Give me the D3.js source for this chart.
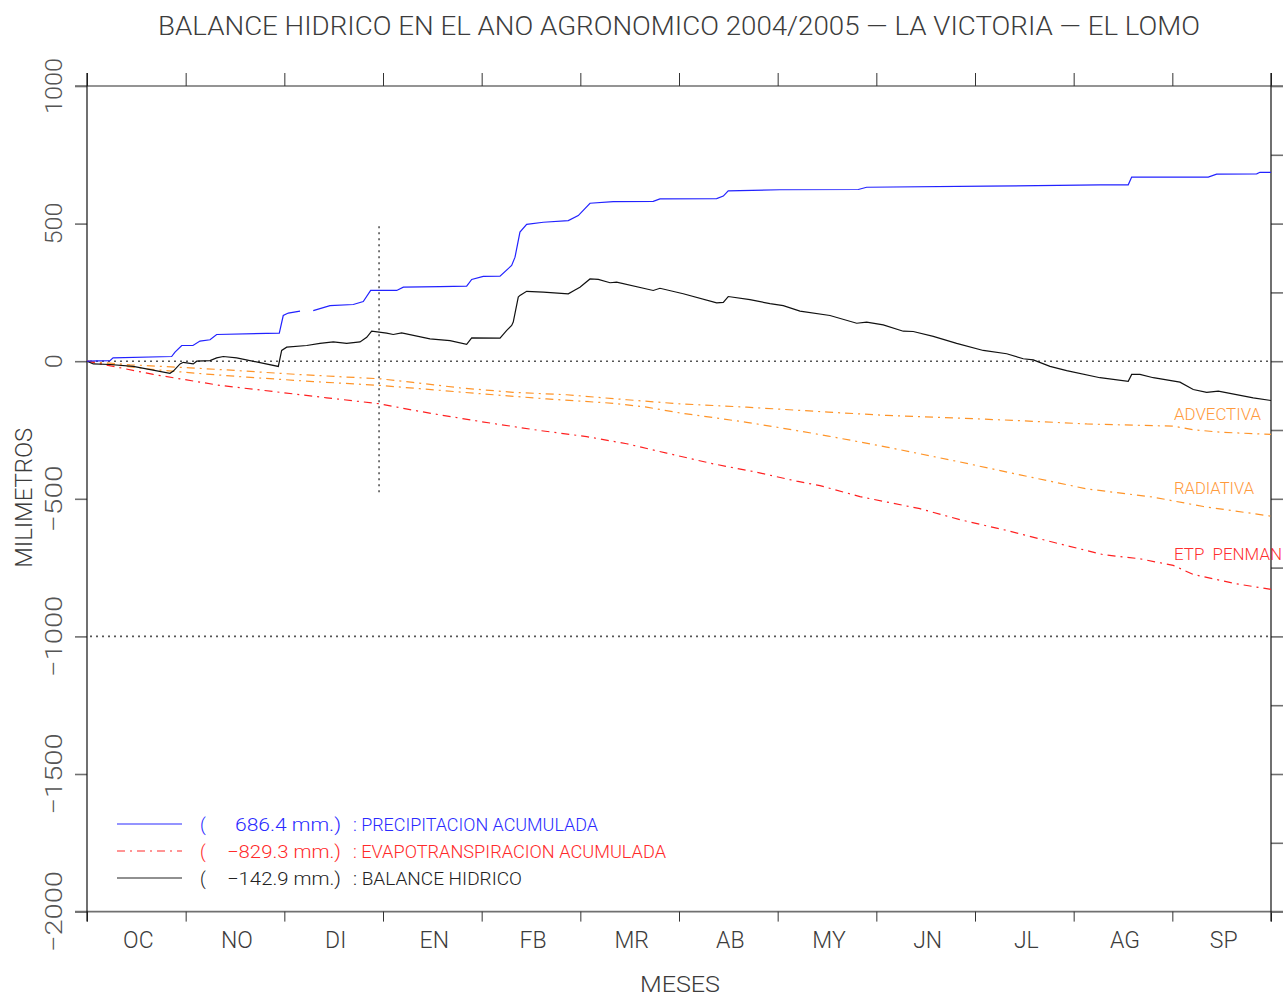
<!DOCTYPE html>
<html>
<head>
<meta charset="utf-8">
<script src="https://cdn.jsdelivr.net/npm/d3@7"></script>
<style>
  body { margin: 0; background: #fff; }
  svg { display: block; font-family: Roboto, "Liberation Sans", sans-serif; font-weight: 300; }
  text { white-space: pre; }
</style>
</head>
<body>
<svg id="chart" width="1283" height="997"></svg>
<script>
// Hydrological year Oct 2004 – Sep 2005; x positions are in months from 1 Oct.
const monthLabels = ["OC","NO","DI","EN","FB","MR","AB","MY","JN","JL","AG","SP"];
const monthBoundaries = [0,1,2,3,4,5,6,7,8,9,10,11,12];
const leftTickValues = [-2000,-1500,-1000,-500,0,500,1000];
const leftTickLabels = ["\u22122000","\u22121500","\u22121000","\u2212500","0","500","1000"];
const rightTickValues = [-2000,-1750,-1500,-1250,-1000,-750,-500,-250,0,250,500,750,1000];
const referenceLevels = [0,-1000];
const markerMonth = 2.96;
const markerRange = [490,-490];

// Accumulated precipitation (mm); null = missing record
const precipitation = [
  [0,0],[0.233,2],[0.264,12],[0.858,17],[0.892,33],[0.960,57],[1.074,57],[1.145,73],
  [1.247,78],[1.314,97],[1.949,102],[1.989,166],[2.040,175],[2.159,182],[2.22,null],
  [2.293,184],[2.463,202],[2.699,206],[2.800,217],[2.875,257],[3.139,257],[3.206,269],
  [3.578,271],[3.848,273],[3.899,297],[4.016,308],[4.186,309],[4.304,348],[4.338,378],
  [4.388,469],[4.456,497],[4.625,505],[4.878,511],[4.979,529],[5.098,574],[5.334,580],
  [5.739,581],[5.807,590],[6.382,591],[6.449,600],[6.499,619],[7.023,623],[7.817,624],
  [7.902,632],[9.118,636],[10.267,641],[10.553,641],[10.588,669],[11.364,669],
  [11.449,680],[11.855,681],[11.888,686.4],[12,686.4]
];

// Accumulated water balance (mm)
const balance = [
  [0,0],[0.064,-10],[0.233,-12],[0.469,-19],[0.841,-44],[0.875,-36],[0.943,-10],
  [0.976,-4],[1.077,-10],[1.112,0],[1.247,2],[1.314,12],[1.381,17],[1.517,12],
  [1.939,-19],[1.973,39],[2.024,51],[2.227,57],[2.361,65],[2.496,70],[2.632,65],
  [2.767,70],[2.835,87],[2.885,109],[3.037,102],[3.104,97],[3.189,103],[3.476,81],
  [3.679,75],[3.848,61],[3.899,85],[4.186,84],[4.254,112],[4.304,130],[4.320,142],
  [4.371,233],[4.388,239],[4.456,254],[4.625,251],[4.878,245],[4.946,259],[4.996,269],
  [5.098,299],[5.182,297],[5.301,285],[5.368,287],[5.739,257],[5.807,265],[6.043,245],
  [6.382,212],[6.449,214],[6.499,235],[6.719,224],[6.922,209],[7.057,202],[7.226,182],
  [7.530,166],[7.801,138],[7.902,142],[8.070,132],[8.273,109],[8.374,108],[8.577,90],
  [8.814,65],[9.084,39],[9.321,27],[9.489,9],[9.591,5],[9.760,-19],[9.929,-34],
  [10.267,-60],[10.553,-73],[10.588,-48],[10.672,-48],[10.807,-60],[11.077,-76],
  [11.212,-103],[11.348,-113],[11.466,-109],[11.820,-133],[12,-142.9]
];

// Accumulated evapotranspiration, Penman (mm)
const etpPenman = [
  [0,0],[0.267,-19],[0.672,-48],[0.943,-64],[1.348,-88],[1.787,-106],[2.429,-133],
  [2.970,-155],[3.274,-176],[3.510,-191],[3.983,-219],[4.591,-252],[5.064,-274],
  [5.470,-300],[5.875,-334],[6.347,-373],[6.753,-401],[7.193,-436],[7.429,-452],
  [7.834,-492],[8.442,-536],[8.848,-576],[9.321,-615],[9.793,-658],[10.300,-703],
  [10.672,-718],[11.009,-742],[11.212,-775],[11.652,-809],[12,-829.3]
];

// Advective component (mm)
const advectiva = [
  [0,0],[0.436,-13],[1.044,-24],[1.517,-34],[2.125,-48],[2.970,-64],[3.304,-77],
  [3.780,-97],[4.317,-113],[4.862,-122],[5.470,-140],[6.010,-155],[6.686,-167],
  [7.513,-185],[8.105,-197],[8.780,-206],[9.456,-216],[10.132,-228],[11.009,-236],
  [11.212,-249],[11.483,-258],[12,-266]
];

// Radiative component (mm)
const radiativa = [
  [0,0],[0.605,-28],[1.112,-44],[1.619,-58],[2.293,-74],[2.970,-88],[3.375,-100],
  [3.983,-118],[4.659,-137],[5.334,-153],[5.672,-167],[6.010,-188],[6.686,-222],
  [7.193,-252],[7.513,-272],[8.105,-312],[8.780,-361],[9.456,-413],[10.132,-464],
  [10.807,-494],[11.314,-528],[12,-563]
];

const legendNames = ["PRECIPITACION ACUMULADA","EVAPOTRANSPIRACION ACUMULADA","BALANCE HIDRICO"];

const svg = d3.select("#chart");
const x = d3.scaleLinear().domain([0, 12]).range([87, 1271]);
const y = d3.scaleLinear().domain([-2000, 1000]).range([911.6, 86]);

const axisGrey = "#707070";
const textGrey = "#3c3c3c";

// Title
svg.append("text")
  .attr("x", 158).attr("y", 35)
  .attr("font-size", 25).attr("fill", textGrey)
  .attr("textLength", 1042).attr("lengthAdjust", "spacingAndGlyphs")
  .text("BALANCE HIDRICO EN EL ANO AGRONOMICO 2004/2005 \u2014 LA VICTORIA \u2014 EL LOMO");

// Frame: horizontal lines at top and bottom of the value range
const [x0, x1] = x.range();
[1000, -2000].forEach(v => {
  svg.append("line")
    .attr("x1", x0 - 12).attr("x2", x1 + 12)
    .attr("y1", y(v)).attr("y2", y(v))
    .attr("stroke", axisGrey).attr("stroke-width", 1.6);
});

// Month ticks on bottom (down) and top (up)
const bottomAxis = d3.axisBottom(x).tickValues(monthBoundaries).tickSize(10).tickFormat("").tickSizeOuter(0);
const gB = svg.append("g").attr("transform", `translate(0,${y(-2000)})`).call(bottomAxis);
const topAxis = d3.axisTop(x).tickValues(monthBoundaries).tickSize(13).tickFormat("").tickSizeOuter(0);
const gT = svg.append("g").attr("transform", `translate(0,${y(1000)})`).call(topAxis);
[gB, gT].forEach(g => {
  g.select(".domain").remove();
  g.selectAll(".tick line").attr("stroke", "#333").attr("stroke-width", 1);
});

// Left value ticks
const leftAxis = d3.axisLeft(y).tickValues(leftTickValues).tickSize(12).tickFormat("").tickSizeOuter(0);
const gL = svg.append("g").attr("transform", `translate(${x0},0)`).call(leftAxis);
gL.select(".domain").remove();
gL.selectAll(".tick line").attr("stroke", axisGrey).attr("stroke-width", 1.6);

// Right value ticks
const rightAxis = d3.axisRight(y).tickValues(rightTickValues).tickSize(12).tickFormat("").tickSizeOuter(0);
const gR = svg.append("g").attr("transform", `translate(${x1},0)`).call(rightAxis);
gR.select(".domain").remove();
gR.selectAll(".tick line").attr("stroke", axisGrey).attr("stroke-width", 1.6);

// Vertical axis lines
[x0, x1].forEach(xx => {
  svg.append("line")
    .attr("x1", xx).attr("x2", xx)
    .attr("y1", y(1000) - 13).attr("y2", y(-2000) + 10)
    .attr("stroke", "#111").attr("stroke-width", 1.2);
});

// Left tick labels (rotated)
leftTickValues.forEach((v, i) => {
  const lab = leftTickLabels[i];
  const digits = lab.replace("\u2212", "").length;
  const len = digits * 14 + (lab.startsWith("\u2212") ? 25 : 0);
  svg.append("text")
    .attr("transform", `translate(62,${y(v)}) rotate(-90)`)
    .attr("text-anchor", "middle")
    .attr("font-size", 24).attr("fill", "#555")
    .attr("textLength", len).attr("lengthAdjust", "spacingAndGlyphs")
    .text(lab);
});

// Month labels
monthLabels.forEach((m, i) => {
  svg.append("text")
    .attr("x", x(i + 0.5) + 2).attr("y", 948)
    .attr("text-anchor", "middle")
    .attr("font-size", 23).attr("fill", textGrey)
    .text(m);
});

// Axis titles
svg.append("text")
  .attr("x", 680).attr("y", 992).attr("text-anchor", "middle")
  .attr("font-size", 22).attr("fill", textGrey)
  .attr("textLength", 80).attr("lengthAdjust", "spacingAndGlyphs")
  .text("MESES");
svg.append("text")
  .attr("transform", `translate(32,${y(-500) - 1}) rotate(-90)`)
  .attr("text-anchor", "middle")
  .attr("font-size", 23).attr("fill", textGrey)
  .attr("textLength", 140).attr("lengthAdjust", "spacingAndGlyphs")
  .text("MILIMETROS");

// Dotted reference levels and date marker
referenceLevels.forEach(v => {
  svg.append("line")
    .attr("x1", x0 + 3).attr("x2", x1)
    .attr("y1", y(v)).attr("y2", y(v))
    .attr("stroke", "#555").attr("stroke-width", 1.6)
    .attr("stroke-dasharray", "2,4");
});
svg.append("line")
  .attr("x1", x(markerMonth)).attr("x2", x(markerMonth))
  .attr("y1", y(markerRange[0])).attr("y2", y(markerRange[1]))
  .attr("stroke", "#555").attr("stroke-width", 1.6)
  .attr("stroke-dasharray", "2,4");

// Series
const line = d3.line()
  .defined(d => d[1] !== null)
  .x(d => x(d[0]))
  .y(d => y(d[1]));

const dashDot = "8,5,2,5";
const series = [
  { data: advectiva, color: "#ff9428", dash: dashDot },
  { data: radiativa, color: "#ff9428", dash: dashDot },
  { data: etpPenman, color: "#ff2020", dash: dashDot },
  { data: balance, color: "#111111", dash: null },
  { data: precipitation, color: "#2222ff", dash: null }
];
series.forEach(s => {
  svg.append("path")
    .datum(s.data)
    .attr("d", line)
    .attr("fill", "none")
    .attr("stroke", s.color)
    .attr("stroke-width", 1.2)
    .attr("stroke-dasharray", s.dash);
});

// End-of-series labels
const last = arr => arr[arr.length - 1][1];
[
  { text: "ADVECTIVA", y: 420, color: "#ff9a3c", len: 87 },
  { text: "RADIATIVA", y: 494, color: "#ff9a3c", len: 80 },
  { text: "ETP  PENMAN", y: 560, color: "#ff3030", len: 108 }
].forEach(l => {
  svg.append("text")
    .attr("x", 1174).attr("y", l.y)
    .attr("font-size", 17).attr("fill", l.color)
    .attr("textLength", l.len).attr("lengthAdjust", "spacingAndGlyphs")
    .text(l.text);
});

// Legend
const fmt = v => (v < 0 ? "\u2212" : "") + d3.format(".1f")(Math.abs(v));
const legendRows = [
  { value: last(precipitation), name: legendNames[0], color: "#2a2aff", dash: null, y: 824, nameLen: 245 },
  { value: last(etpPenman), name: legendNames[1], color: "#ff2a2a", dash: dashDot, y: 851, nameLen: 313 },
  { value: last(balance), name: legendNames[2], color: "#222222", dash: null, y: 878, nameLen: 169 }
];
legendRows.forEach(r => {
  svg.append("line")
    .attr("x1", 117).attr("x2", 182)
    .attr("y1", r.y).attr("y2", r.y)
    .attr("stroke", r.color).attr("stroke-width", 1.2)
    .attr("stroke-dasharray", r.dash);
  svg.append("text")
    .attr("x", 200).attr("y", r.y + 7)
    .attr("font-size", 18).attr("fill", r.color)
    .text("(");
  const valStr = fmt(r.value) + " mm.)";
  svg.append("text")
    .attr("x", 341).attr("y", r.y + 7)
    .attr("text-anchor", "end")
    .attr("font-size", 18).attr("fill", r.color)
    .attr("textLength", r.value < 0 ? 114 : 106).attr("lengthAdjust", "spacingAndGlyphs")
    .text(valStr);
  svg.append("text")
    .attr("x", 353).attr("y", r.y + 7)
    .attr("font-size", 18).attr("fill", r.color)
    .attr("textLength", r.nameLen).attr("lengthAdjust", "spacingAndGlyphs")
    .text(": " + r.name);
});
</script>
</body>
</html>
